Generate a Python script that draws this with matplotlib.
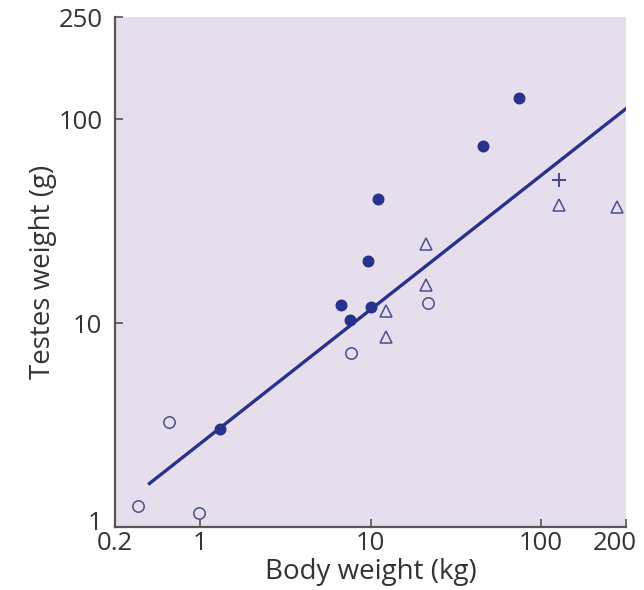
import numpy as np
import matplotlib.pyplot as plt
from matplotlib.transforms import ScaledTranslation

plt.rcParams['font.family'] = ['Open Sans', 'DejaVu Sans']

# filled circles
solid_x = [1.30, 6.73, 7.53, 9.66, 10.1, 11.1, 45.7, 74.0]
solid_y = [3.02, 12.3, 10.4, 20.1, 12.0, 40.9, 73.8, 127.6]
# open circles
open_x = [0.43, 0.66, 0.98, 7.67, 21.7]
open_y = [1.27, 3.28, 1.18, 7.19, 12.6]
# open triangles
tri_x = [12.4, 12.4, 21.2, 21.2, 127.7, 280.0]
tri_y = [11.5, 8.61, 24.6, 15.4, 38.1, 37.2]
# plus
plus_x = [127.7]
plus_y = [50.3]
# fitted line end points
line_x = [0.504, 316.0]
line_y = [1.64, 112.7]

xticks = [10**-0.5, 1, 10, 100, 10**2.5]
xlabels = ['0.2', '1', '10', '100', '200']
yticks = [1, 10, 100, 10**2.5]
ylabels = ['1', '10', '100', '250']

navy = '#28318c'
edge = '#4b4f8c'
txt = '#333333'

fig = plt.figure(figsize=(6.44, 5.90), dpi=100)
ax = fig.add_axes([115/644, 62.7/590, 511/644, 510/590])
ax.set_facecolor('#e6deec')

ax.plot(line_x, line_y, '-', color=navy, lw=2.4, zorder=2)
ax.plot(solid_x, solid_y, 'o', ms=7.6, color=navy, mec=navy, zorder=3)
ax.plot(open_x, open_y, 'o', ms=8.2, mfc='none', mec=edge, mew=1.1, zorder=3)
ax.plot(tri_x, tri_y, '^', ms=8, mfc='none', mec=edge, mew=1.1, zorder=3)
ax.plot(plus_x, plus_y, '+', ms=10, mec=edge, mew=1.5, zorder=3)

ax.set_xscale('log')
ax.set_yscale('log')
ax.set_xlim(xticks[0], xticks[-1])
ax.set_ylim(yticks[0], yticks[-1])
ax.set_xticks(xticks)
ax.set_xticklabels(xlabels)
ax.set_yticks(yticks)
ax.set_yticklabels(ylabels)
ax.minorticks_off()

for s in ['top', 'right']:
    ax.spines[s].set_visible(False)
for s in ['left', 'bottom']:
    ax.spines[s].set_color('#555555')
    ax.spines[s].set_linewidth(1.6)

ax.tick_params(direction='in', length=6, width=1.2, color='#555555',
               labelsize=18.5, labelcolor=txt)
ax.tick_params(axis='x', pad=3)
ax.tick_params(axis='y', pad=9)

# end labels nudged like in the original
lab = ax.get_xticklabels()[-1]
lab.set_transform(lab.get_transform() + ScaledTranslation(-0.11, 0, fig.dpi_scale_trans))
lab = ax.get_yticklabels()[0]
lab.set_transform(lab.get_transform() + ScaledTranslation(0, 0.07, fig.dpi_scale_trans))

ax.set_xlabel('Body weight (kg)', fontsize=20, color=txt, labelpad=1)
ax.set_ylabel('Testes weight (g)', fontsize=20, color=txt, labelpad=1)

fig.savefig('out.png', dpi=100)
